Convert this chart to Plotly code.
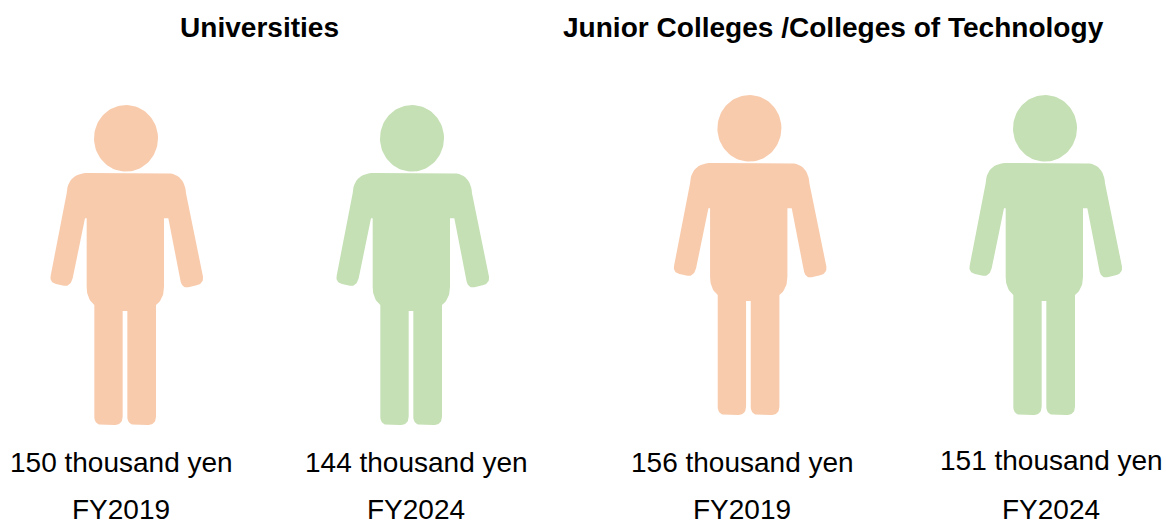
import plotly.graph_objects as go
import numpy as np

groups = ["Universities", "Junior Colleges /Colleges of Technology"]
years = ["FY2019", "FY2024", "FY2019", "FY2024"]
values = [150, 144, 156, 151]
colors = {"FY2019": "#F8CBAD", "FY2024": "#C5E0B4"}

# layout (pixel-mapped plot area)
W, H = 1166, 523
icon_cx = [126, 412, 749.4, 1045]
icon_top = [105, 105, 95, 95]
value_cx = [121.5, 416.5, 742, 1051]
year_cx = [121, 416, 741.5, 1051]
value_y = [462.5, 462.5, 462.5, 460.5]
year_y = [509, 509, 509, 509]
group_cx = [259, 833.5]
group_y = [27.5, 27.5]

# icon silhouette template, (x, y) relative to centre / top; 'q' marks a quadratic curve ctrl, end
S = 3.0
OX, OY = 258, 30
body = [
    ("m", (145, 234)), ("l", (375, 234)), ("q", (434, 234), (438, 295)),
    ("l", (489, 545)), ("q", (492, 565), (470, 571)), ("l", (445, 577)),
    ("q", (427, 580), (422, 560)), ("l", (385, 370)), ("l", (372, 370)),
    ("l", (372, 575)), ("q", (372, 612), (348, 630)), ("l", (348, 965)),
    ("q", (348, 990), (322, 990)), ("l", (287, 990)), ("q", (262, 990), (262, 965)),
    ("l", (262, 648)), ("l", (248, 648)), ("l", (248, 965)),
    ("q", (248, 990), (222, 990)), ("l", (188, 990)), ("q", (163, 990), (163, 965)),
    ("l", (163, 630)), ("q", (140, 612), (140, 575)), ("l", (140, 370)),
    ("l", (135, 370)), ("l", (98, 550)), ("q", (92, 575), (72, 572)),
    ("l", (48, 567)), ("q", (28, 562), (32, 542)), ("l", (80, 295)),
    ("q", (83, 234), (145, 234)),
]


def outline(path):
    pts = []
    for seg in path:
        if seg[0] in "ml":
            pts.append(seg[1])
        else:
            p0 = np.array(pts[-1], float)
            c, p1 = np.array(seg[1], float), np.array(seg[2], float)
            for t in np.linspace(0, 1, 14)[1:]:
                pts.append(tuple((1 - t) ** 2 * p0 + 2 * t * (1 - t) * c + t ** 2 * p1))
    a = np.array(pts, float)
    return (a[:, 0] - OX) / S, (a[:, 1] - OY) / S


bx, by = outline(body)
ang = np.linspace(0, 2 * np.pi, 90)
hx, hy = 32 * np.cos(ang), 33.3 + 33.3 * np.sin(ang)

fig = go.Figure()
for i, yr in enumerate(years):
    xs = np.concatenate([bx + icon_cx[i], [None], hx + icon_cx[i]])
    ys = np.concatenate([by + icon_top[i], [None], hy + icon_top[i]])
    fig.add_trace(go.Scatter(
        x=xs, y=ys, mode="lines", fill="toself", fillcolor=colors[yr],
        line=dict(width=0, color=colors[yr]), hoverinfo="text",
        text=f"{yr}: {values[i]} thousand yen", showlegend=False,
    ))

FONT = "Liberation Sans, Arial, sans-serif"
ann = []
for g, x, y in zip(groups, group_cx, group_y):
    ann.append(dict(x=x, y=y, text=f"<b>{g}</b>", showarrow=False,
                    font=dict(family=FONT, size=28.05, color="#000000")))
for i in range(4):
    ann.append(dict(x=value_cx[i], y=value_y[i], text=f"{values[i]} thousand yen", showarrow=False,
                    font=dict(family=FONT, size=28, color="#000000")))
    ann.append(dict(x=year_cx[i], y=year_y[i], text=years[i], showarrow=False, height=24,
                    font=dict(family=FONT, size=28, color="#000000")))

fig.update_layout(
    width=W, height=H, margin=dict(l=0, r=0, t=0, b=0),
    paper_bgcolor="#FFFFFF", plot_bgcolor="#FFFFFF", annotations=ann,
    xaxis=dict(range=[0, W], visible=False, fixedrange=True),
    yaxis=dict(range=[H, 0], visible=False, fixedrange=True),
)
fig.write_html(
    "out.html",
    config={"displayModeBar": False},
    post_script="document.body.style.margin='0';document.body.style.overflow='hidden';",
)
